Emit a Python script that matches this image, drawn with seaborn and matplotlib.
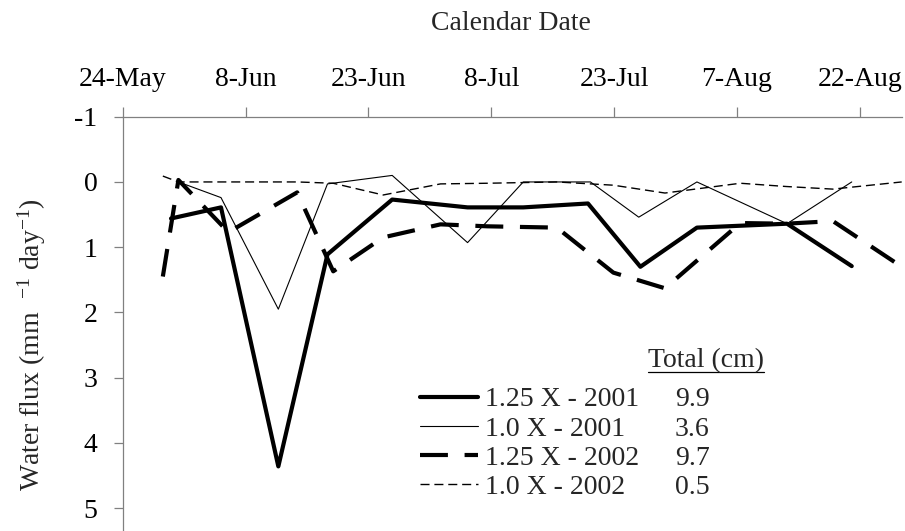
import matplotlib
matplotlib.use("Agg")
import matplotlib.pyplot as plt
from matplotlib.lines import Line2D
import seaborn as sns

# days after 24-May
days_2001_hi = [5.9, 12.0, 19.0, 25.0, 32.9, 42.1, 48.9, 56.8, 63.2, 70.1, 81.1, 89.0]
flux_2001_hi = [0.56, 0.39, 4.36, 1.11, 0.27, 0.39, 0.39, 0.33, 1.30, 0.70, 0.64, 1.29]

days_2001_lo = [6.8, 12.0, 19.0, 25.0, 32.9, 42.1, 48.9, 57.1, 63.0, 70.1, 81.1, 89.0]
flux_2001_lo = [0.0, 0.24, 1.95, 0.03, -0.10, 0.93, 0.0, 0.0, 0.54, 0.0, 0.64, 0.0]

days_2002 = [4.9, 6.8, 12.9, 21.3, 25.7, 31.8, 38.8, 44.5, 53.0, 59.9, 66.2, 75.4, 81.0, 86.7, 95.1]
flux_2002_hi = [1.45, -0.03, 0.77, 0.16, 1.37, 0.85, 0.65, 0.68, 0.70, 1.39, 1.63, 0.63, 0.64, 0.60, 1.30]
flux_2002_lo = [-0.09, 0.0, 0.0, 0.0, 0.02, 0.20, 0.03, 0.02, 0.0, 0.05, 0.17, 0.02, 0.07, 0.11, 0.0]

series_names = ["1.25 X - 2001", "1.0 X - 2001", "1.25 X - 2002", "1.0 X - 2002"]
totals = ["9.9", "3.6", "9.7", "0.5"]

date_ticks = [0, 15, 30, 45, 60, 75, 90]
date_labels = ["24-May", "8-Jun", "23-Jun", "8-Jul", "23-Jul", "7-Aug", "22-Aug"]
flux_ticks = [-1, 0, 1, 2, 3, 4, 5]

sns.set_theme(style="white")
plt.rcParams["font.family"] = ["Liberation Serif", "DejaVu Serif"]
plt.rcParams["mathtext.fontset"] = "custom"
plt.rcParams["mathtext.rm"] = "Liberation Serif"
plt.rcParams["mathtext.default"] = "regular"
plt.rcParams["axes.unicode_minus"] = False

fs = 20
W, H = 905, 531
fig = plt.figure(figsize=(W / 100, H / 100), dpi=100)
ax = fig.add_axes([122.7 / W, 0.0, (901.7 - 122.7) / W, (531 - 116.7) / H])

styles = [
    dict(lw=3.0, linestyle="-"),
    dict(lw=0.8, linestyle="-"),
    dict(lw=3.0, linestyle=(0, (6.7, 4.0)), dash_capstyle="butt"),
    dict(lw=1.0, linestyle=(0, (6.5, 3.5)), dash_capstyle="butt"),
]
data = [(days_2001_hi, flux_2001_hi), (days_2001_lo, flux_2001_lo),
        (days_2002, flux_2002_hi), (days_2002, flux_2002_lo)]
for (x, y), st in zip(data, styles):
    sns.lineplot(x=x, y=y, ax=ax, color="black", estimator=None, sort=False, **st)

ax.set_xlim(0, 95.1)
ax.set_ylim(5.35, -1)
ax.xaxis.tick_top()
ax.set_xticks(date_ticks)
ax.set_xticklabels(date_labels)
ax.set_yticks(flux_ticks)
ax.set_yticklabels([str(v) for v in flux_ticks])
ax.set_xlabel("")
ax.set_ylabel("")

for side in ["right", "bottom"]:
    ax.spines[side].set_visible(False)
for side in ["top", "left"]:
    ax.spines[side].set_color("#808080")
    ax.spines[side].set_linewidth(0.9)
ax.tick_params(axis="x", which="both", top=True, bottom=False, direction="out",
               length=7, width=0.9, color="#808080", pad=11, labelsize=fs, labelcolor="black")
ax.tick_params(axis="y", which="both", left=True, direction="out",
               length=6.8, width=0.9, color="#808080", pad=11.5, labelsize=fs, labelcolor="black")
ax.grid(False)

fig.text(511 / W, 1 - 23 / H, "Calendar Date", ha="center", va="center", fontsize=fs)
fig.text(32 / W, 1 - 345 / H, r"Water flux (mm  $^{-1}$ day$^{-1}$)", ha="center", va="center",
         rotation=90, fontsize=fs)

handles = [Line2D([], [], color="black", **st) for st in styles]
leg = ax.legend(handles, series_names, loc="upper left", bbox_to_anchor=(420 / W, 1 - 387 / H),
                bbox_transform=fig.transFigure, frameon=False, fontsize=fs, handlelength=2.1,
                handletextpad=0.25, labelspacing=0.13, borderaxespad=0, borderpad=0)

fig.canvas.draw()
renderer = fig.canvas.get_renderer()
inv = fig.transFigure.inverted()
for txt, val in zip(leg.get_texts(), totals):
    bb = txt.get_window_extent(renderer)
    yc = inv.transform((0, (bb.y0 + bb.y1) / 2))[1]
    fig.text(675 / W, yc, val, ha="left", va="center", fontsize=fs)

head = fig.text(648 / W, 1 - 361 / H, "Total (cm)", ha="left", va="center", fontsize=fs)
fig.canvas.draw()
hb = head.get_window_extent(renderer)
(x0, y0), (x1, _) = inv.transform([(hb.x0, hb.y0 + 2), (hb.x1, hb.y0 + 2)])
fig.add_artist(Line2D([x0, x1], [y0, y0], transform=fig.transFigure, color="black", lw=0.9))

fig.savefig("out.png", dpi=100)
